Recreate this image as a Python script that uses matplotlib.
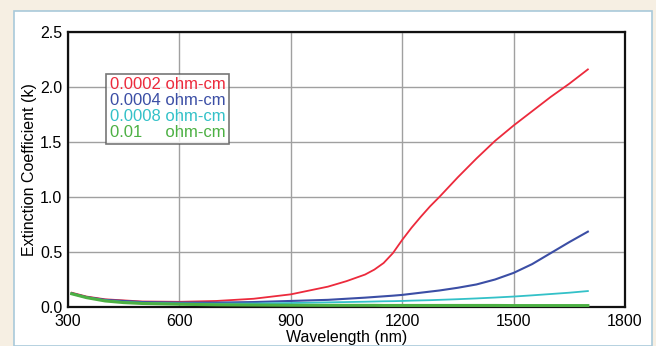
import matplotlib
matplotlib.use("Agg")
import matplotlib.pyplot as plt
from matplotlib.patches import Rectangle

plt.rcParams['font.family'] = ['Liberation Sans', 'DejaVu Sans']

wavelength = [310, 350, 400, 450, 500, 600, 700, 800, 900, 1000, 1050, 1100, 1125, 1150,
              1175, 1200, 1225, 1250, 1275, 1300, 1350, 1400, 1450, 1500, 1550, 1600, 1650, 1700]
k_0002 = [0.13, 0.095, 0.07, 0.06, 0.05, 0.047, 0.055, 0.075, 0.115, 0.185, 0.235, 0.295, 0.34, 0.40,
          0.49, 0.61, 0.72, 0.82, 0.915, 1.00, 1.18, 1.35, 1.51, 1.65, 1.78, 1.91, 2.03, 2.16]
k_0004 = [0.125, 0.09, 0.065, 0.055, 0.045, 0.04, 0.04, 0.045, 0.055, 0.065, 0.075, 0.085, 0.091, 0.097,
          0.103, 0.11, 0.12, 0.13, 0.14, 0.15, 0.175, 0.205, 0.25, 0.31, 0.39, 0.49, 0.59, 0.685]
k_0008 = [0.12, 0.085, 0.06, 0.045, 0.038, 0.032, 0.03, 0.032, 0.036, 0.042, 0.045, 0.048, 0.05, 0.052,
          0.053, 0.055, 0.058, 0.06, 0.062, 0.065, 0.071, 0.078, 0.086, 0.095, 0.106, 0.118, 0.13, 0.145]
k_01 = [0.12, 0.085, 0.055, 0.04, 0.032, 0.025, 0.02, 0.018, 0.016, 0.015, 0.015, 0.015, 0.015, 0.014,
        0.014, 0.014, 0.014, 0.014, 0.014, 0.014, 0.014, 0.014, 0.014, 0.013, 0.013, 0.013, 0.013, 0.013]

labels = ["0.0002 ohm-cm", "0.0004 ohm-cm", "0.0008 ohm-cm", "0.01     ohm-cm"]
colors = ["#ec2a3c", "#3b4ea5", "#33c1c8", "#4cb043"]
x_ticks = [300, 600, 900, 1200, 1500, 1800]
y_ticks = [0.0, 0.5, 1.0, 1.5, 2.0, 2.5]

fig = plt.figure(figsize=(6.56, 3.46), dpi=100)
fig.patch.set_facecolor("#f6efe3")
fig.patches.append(Rectangle((14 / 656, 0), 638 / 656, (346 - 11) / 346,
                             transform=fig.transFigure, facecolor="white",
                             edgecolor="#a9c9da", linewidth=1.2, zorder=-10))

ax = fig.add_axes([68 / 656, (346 - 307) / 346, 557 / 656, 275 / 346])
ax.set_facecolor("white")

series = [k_0002, k_0004, k_0008, k_01]
widths = [1.3, 1.5, 1.3, 2.2]
lines = []
for ys, c, lw, lab in zip(series, colors, widths, labels):
    ln, = ax.plot(wavelength, ys, color=c, lw=lw, label=lab, zorder=3)
    lines.append(ln)

ax.set_xlim(300, 1800)
ax.set_ylim(0, 2.5)
ax.set_xticks(x_ticks)
ax.set_yticks(y_ticks)
ax.set_yticklabels([f"{v:.1f}" for v in y_ticks])
ax.tick_params(length=0, labelsize=11.5, colors="black")
ax.tick_params(axis="x", pad=5)
ax.tick_params(axis="y", pad=4)
ax.grid(True, color="#a0a0a0", lw=1.0)
ax.set_axisbelow(True)
for s in ax.spines.values():
    s.set_linewidth(1.6)
    s.set_color("#111111")

ax.set_xlabel("Wavelength (nm)", fontsize=11.5, labelpad=1)
ax.set_ylabel("Extinction Coefficient (k)", fontsize=11.5, labelpad=2)

leg = ax.legend(handles=lines, loc="upper left", bbox_to_anchor=(0.068, 0.848),
                handlelength=0, handletextpad=0, fontsize=12, frameon=True,
                fancybox=False, edgecolor="#555555", borderpad=0.22,
                labelspacing=0.05, borderaxespad=0)
leg.get_frame().set_linewidth(1.2)
for t, c in zip(leg.get_texts(), colors):
    t.set_color(c)
for h in leg.legend_handles:
    h.set_visible(False)

fig.savefig("out.png", dpi=100, facecolor=fig.get_facecolor())
